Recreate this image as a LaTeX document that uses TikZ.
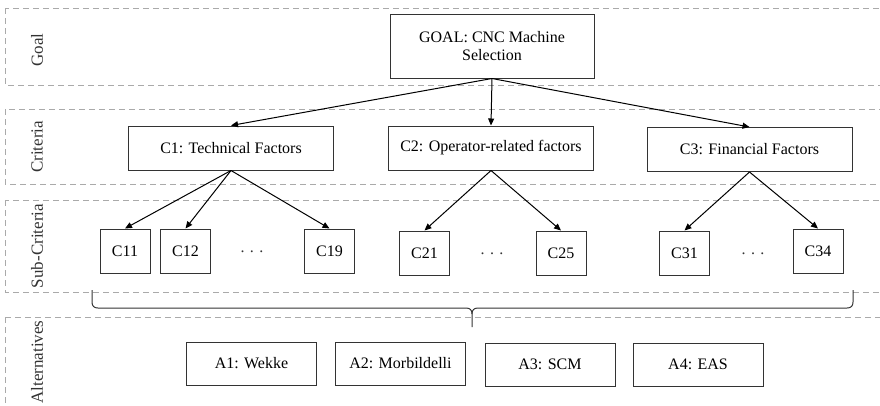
\documentclass[tikz,border=0pt]{standalone}
\usepackage{fontspec}
\setmainfont{Liberation Serif}
\usetikzlibrary{arrows.meta}
\definecolor{panelgray}{HTML}{AAAAAA}
\definecolor{boxline}{HTML}{333333}
\begin{document}
\begin{tikzpicture}[x=1pt,y=-1pt,
  panel/.style={draw=panelgray,line width=0.9pt,dash pattern=on 6pt off 4pt},
  lbl/.style={rotate=90,font=\fontsize{17}{19}\selectfont,text=boxline},
  bigbox/.style={draw=boxline,line width=1pt,minimum width=205pt,minimum height=44pt,font=\fontsize{16}{19}\selectfont,inner sep=0pt},
  goalbox/.style={draw=boxline,line width=1pt,minimum width=204pt,minimum height=64pt,font=\fontsize{16}{18}\selectfont,align=center,inner sep=0pt},
  subbox/.style={draw=boxline,line width=1pt,minimum width=50pt,minimum height=44pt,font=\fontsize{16}{19}\selectfont,inner sep=0pt},
  altbox/.style={draw=boxline,line width=1pt,minimum width=130pt,minimum height=43pt,font=\fontsize{16}{19}\selectfont,inner sep=0pt},
  dotsnode/.style={font=\fontsize{16}{19}\selectfont,text=boxline},
  arr/.style={draw=black,line width=1pt,-{Triangle[length=7pt,width=6pt]}},
  bracel/.style={draw=boxline,line width=1pt}
]
\useasboundingbox (0,0) rectangle (880,405);
\clip (0,0) rectangle (880,405);
% panels
\draw[panel] (5,8) rectangle (900,85);
\draw[panel] (5,109) rectangle (900,184);
\draw[panel] (5,200) rectangle (900,292);
\draw[panel] (5,317) rectangle (900,420);
% panel labels
\node[lbl] (lgoal) at (37,50) {Goal};
\node[lbl] (lcrit) at (37,147) {Criteria};
\node[lbl] (lsub) at (37,246) {Sub-Criteria};
\node[lbl] (lalt) at (37,362) {Alternatives};
% goal
\node[goalbox,fill=white] (goal) at (492,46) {GOAL: CNC Machine\\Selection};
% criteria
\node[bigbox,fill=white] (c1) at (231,148) {C1: Technical Factors};
\node[bigbox,fill=white] (c2) at (491,148) {C2: Operator-related factors};
\node[bigbox,fill=white] (c3) at (749.5,149.5) {C3: Financial Factors};
% sub-criteria
\node[subbox] (c11) at (125,251) {C11};
\node[subbox] (c12) at (185.5,251) {C12};
\node[subbox] (c19) at (329.5,251) {C19};
\node[subbox] (c21) at (424.5,253) {C21};
\node[subbox] (c25) at (561,253) {C25};
\node[subbox] (c31) at (684.5,253) {C31};
\node[subbox] (c34) at (818,251) {C34};
\node[dotsnode] (d1) at (252,252) {. . .};
\node[dotsnode] (d2) at (492,254) {. . .};
\node[dotsnode] (d3) at (753,254) {. . .};
% alternatives
\node[altbox] (a1) at (251.5,363.5) {A1: Wekke};
\node[altbox] (a2) at (400.5,363.5) {A2: Morbildelli};
\node[altbox] (a3) at (550,364.5) {A3: SCM};
\node[altbox] (a4) at (698,364.5) {A4: EAS};
% arrows
\draw[arr] (goal.south) -- (c1.north);
\draw[arr] (goal.south) -- (c2.north);
\draw[arr] (goal.south) -- (c3.north);
\draw[arr] (c1.south) -- (c11.north);
\draw[arr] (c1.south) -- (c12.north);
\draw[arr] (c1.south) -- (c19.north);
\draw[arr] (c2.south) -- (c21.north);
\draw[arr] (c2.south) -- (c25.north);
\draw[arr] (c3.south) -- (c31.north);
\draw[arr] (c3.south) -- (c34.north);
% brace
\draw[bracel] (92,290) -- (92,302) .. controls (92,306) and (94,308) .. (98,308) -- (466,308) .. controls (470,308) and (472,310) .. (472,314) -- (472,327);
\draw[bracel] (472,314) .. controls (472,310) and (474,308) .. (478,308) -- (847,308) .. controls (851,308) and (853,306) .. (853,302) -- (853,290);
\end{tikzpicture}
\end{document}
